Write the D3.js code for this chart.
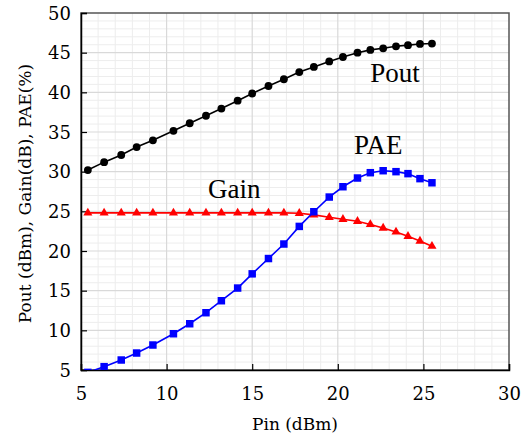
<!DOCTYPE html>
<html>
<head>
<meta charset="utf-8">
<script src="https://cdn.jsdelivr.net/npm/d3@7"></script>
<style>
  html, body { margin: 0; padding: 0; background: #fff; }
  svg { display: block; }
</style>
</head>
<body>
<svg id="chart" width="528" height="442"></svg>
<script>
// Input power (dBm)
const pin = [5.4, 6.35, 7.35, 8.25, 9.2, 10.4, 11.35, 12.3, 13.2, 14.15, 15.0, 15.95,
  16.85, 17.75, 18.6, 19.5, 20.3, 21.15, 21.9, 22.65, 23.4, 24.1, 24.8, 25.5];
const pout = [30.2, 31.2, 32.1, 33.1, 33.95, 35.15, 36.1, 37.05, 37.95, 38.95, 39.85, 40.8,
  41.65, 42.55, 43.2, 43.9, 44.45, 45.0, 45.35, 45.55, 45.8, 45.95, 46.1, 46.15];
const gain = [24.8, 24.8, 24.8, 24.8, 24.8, 24.8, 24.8, 24.8, 24.8, 24.8, 24.8, 24.8,
  24.8, 24.75, 24.55, 24.25, 24.0, 23.75, 23.35, 22.9, 22.4, 21.85, 21.25, 20.6];
const pae = [4.7, 5.42, 6.26, 7.14, 8.15, 9.57, 10.83, 12.22, 13.73, 15.33, 17.12, 19.05,
  20.88, 23.1, 24.95, 26.8, 28.1, 29.2, 29.87, 30.12, 30.0, 29.75, 29.12, 28.6];

const xTicks = [5, 10, 15, 20, 25, 30];
const yTicks = [5, 10, 15, 20, 25, 30, 35, 40, 45, 50];

const plot = { left: 81, top: 13, right: 509, bottom: 370 };
const tickFont = "'DejaVu Serif', serif";
const labelFont = "'Liberation Serif', 'Times New Roman', serif";

const svg = d3.select("#chart");

const x = d3.scaleLinear().domain([5, 30]).range([plot.left, plot.right]);
const y = d3.scaleLinear().domain([5, 50]).range([plot.bottom, plot.top]);

svg.append("defs").append("clipPath").attr("id", "plotClip")
  .append("rect")
  .attr("x", plot.left).attr("y", plot.top)
  .attr("width", plot.right - plot.left).attr("height", plot.bottom - plot.top);

// minor grid (1 unit steps)
const grid = svg.append("g");
grid.selectAll("line.vminor")
  .data(d3.range(6, 30).filter(v => v % 5 !== 0))
  .join("line")
  .attr("x1", d => x(d)).attr("x2", d => x(d))
  .attr("y1", plot.top).attr("y2", plot.bottom)
  .attr("stroke", "#ededed").attr("stroke-width", 1);
grid.selectAll("line.hminor")
  .data(d3.range(6, 50).filter(v => v % 5 !== 0))
  .join("line")
  .attr("x1", plot.left).attr("x2", plot.right)
  .attr("y1", d => y(d)).attr("y2", d => y(d))
  .attr("stroke", "#ededed").attr("stroke-width", 1);

// major grid
grid.selectAll("line.vmajor")
  .data(xTicks.slice(1, -1))
  .join("line")
  .attr("x1", d => x(d)).attr("x2", d => x(d))
  .attr("y1", plot.top).attr("y2", plot.bottom)
  .attr("stroke", "#d9d9d9").attr("stroke-width", 1.2);
grid.selectAll("line.hmajor")
  .data(yTicks.slice(1, -1))
  .join("line")
  .attr("x1", plot.left).attr("x2", plot.right)
  .attr("y1", d => y(d)).attr("y2", d => y(d))
  .attr("stroke", "#d9d9d9").attr("stroke-width", 1.2);

// frame (top/right grey)
svg.append("rect")
  .attr("x", plot.left).attr("y", plot.top)
  .attr("width", plot.right - plot.left).attr("height", plot.bottom - plot.top)
  .attr("fill", "none").attr("stroke", "#555").attr("stroke-width", 1.5);

// axes with inward ticks
const xAxis = d3.axisBottom(x).tickValues(xTicks).tickSize(-6).tickPadding(14);
const yAxis = d3.axisLeft(y).tickValues(yTicks).tickSize(-6).tickPadding(10);

const gx = svg.append("g").attr("transform", `translate(0,${plot.bottom})`).call(xAxis);
const gy = svg.append("g").attr("transform", `translate(${plot.left},0)`).call(yAxis);

[gx, gy].forEach(g => {
  g.select(".domain").attr("stroke", "#000").attr("stroke-width", 1.5);
  g.selectAll(".tick line").attr("stroke", "#000").attr("stroke-width", 1.2);
  g.selectAll(".tick text")
    .attr("fill", "#000")
    .style("font-family", tickFont)
    .style("font-size", "18px");
});
gx.selectAll(".tick text").attr("dy", "0.9em");
gy.selectAll(".tick text").attr("dy", "0.35em");

// axis titles
svg.append("text")
  .attr("x", x(17.5)).attr("y", 430)
  .attr("text-anchor", "middle")
  .style("font-family", tickFont).style("font-size", "17px")
  .text("Pin (dBm)");

svg.append("text")
  .attr("transform", `translate(31,${(plot.top + plot.bottom) / 2 + 2}) rotate(-90)`)
  .attr("text-anchor", "middle")
  .style("font-family", tickFont).style("font-size", "17px")
  .text("Pout (dBm), Gain(dB), PAE(%)");

// series
const series = [
  { name: "Pout", values: pout, color: "#000", symbol: d3.symbolCircle, size: 48 },
  { name: "Gain", values: gain, color: "#ff0000", symbol: d3.symbolTriangle, size: 36 },
  { name: "PAE", values: pae, color: "#0000ff", symbol: d3.symbolSquare, size: 56 }
];

const line = d3.line().x(d => x(d[0])).y(d => y(d[1]));
const marks = svg.append("g").attr("clip-path", "url(#plotClip)");

series.forEach(s => {
  const pts = pin.map((p, i) => [p, s.values[i]]);
  marks.append("path")
    .datum(pts)
    .attr("d", line)
    .attr("fill", "none")
    .attr("stroke", s.color)
    .attr("stroke-width", 1.6);
  marks.selectAll(null)
    .data(pts)
    .join("path")
    .attr("transform", d => `translate(${x(d[0])},${y(d[1])})`)
    .attr("d", d3.symbol().type(s.symbol).size(s.size))
    .attr("fill", s.color);
});

// series labels
const labels = [
  { text: "Pout", px: 21.9, py: 41.3 },
  { text: "PAE", px: 20.95, py: 32.2 },
  { text: "Gain", px: 12.42, py: 26.7 }
];
svg.selectAll("text.lbl")
  .data(labels)
  .join("text")
  .attr("class", "lbl")
  .attr("x", d => x(d.px)).attr("y", d => y(d.py))
  .style("font-family", labelFont).style("font-size", "27px")
  .attr("fill", "#000")
  .text(d => d.text);
</script>
</body>
</html>
